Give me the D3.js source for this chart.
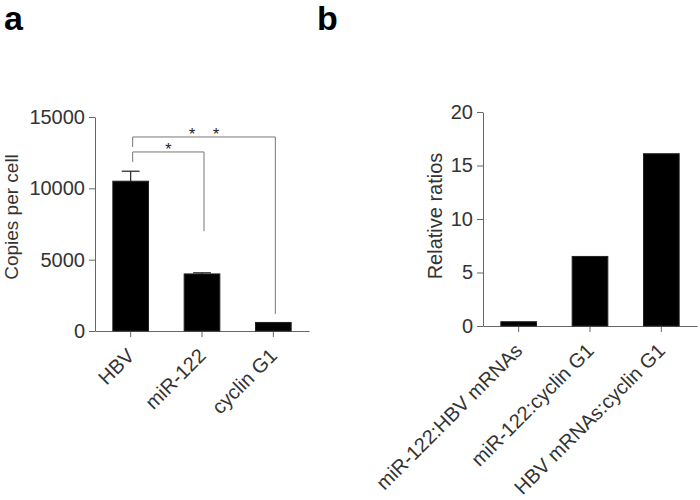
<!DOCTYPE html>
<html>
<head>
<meta charset="utf-8">
<script src="https://cdn.jsdelivr.net/npm/d3@7"></script>
<style>
    body { margin: 0; background: #fff; }
    text { font-family: "Liberation Sans", Arial, sans-serif; }
</style>
</head>
<body>
<svg width="700" height="500"></svg>
<script>
// panel a data
var catsA = ["HBV", "miR-122", "cyclin G1"];
var valsA = [10500, 4000, 600];
var errA = [700, 80, 0];
var ticksA = [0, 5000, 10000, 15000];

// significance brackets: from bar i to bar j, top level and leg ends (data units)
var brackets = [
    {from: 0, to: 1, top: 12550, leftEnd: 11850, rightEnd: 7000, label: "*"},
    {from: 0, to: 2, top: 13600, leftEnd: 12900, rightEnd: 1200, label: "*    *"}
];

// panel b data
var catsB = ["miR-122:HBV mRNAs", "miR-122:cyclin G1", "HBV mRNAs:cyclin G1"];
var valsB = [0.4, 6.5, 16.1];
var ticksB = [0, 5, 10, 15, 20];

var svg = d3.select("svg");
var axisColor = "#666";
var textColor = "#333";

function styleAxis(g) {
    g.selectAll("path").attr("stroke", axisColor);
    g.selectAll("line").attr("stroke", axisColor);
    g.selectAll("text").attr("fill", textColor).style("font-size", "20px");
}

function draw_panel(opt) {
    var x = d3.scaleBand()
        .domain(opt.cats)
        .range([opt.left, opt.right])
        .paddingInner(0.5)
        .paddingOuter(0.25);

    var y = d3.scaleLinear()
        .domain(opt.domain)
        .range([opt.bottom, opt.top]);

    // y axis
    var gy = svg.append("g")
        .attr("transform", "translate(" + opt.left + ",0)")
        .call(d3.axisLeft(y).tickValues(opt.ticks).tickFormat(d3.format("d"))
            .tickSize(6).tickSizeOuter(0).tickPadding(4));
    styleAxis(gy);

    // x axis
    var gx = svg.append("g")
        .attr("transform", "translate(0," + opt.bottom + ")")
        .call(d3.axisBottom(x).tickSize(6).tickSizeOuter(0));
    styleAxis(gx);
    gx.selectAll("text")
        .attr("text-anchor", "end")
        .attr("dy", null)
        .attr("y", 0)
        .attr("transform", "translate(5,26) rotate(-45)");

    // bars
    svg.append("g").selectAll("rect")
        .data(opt.vals)
        .enter()
        .append("rect")
        .attr("x", function(d, i) { return x(opt.cats[i]); })
        .attr("y", function(d) { return y(d); })
        .attr("width", x.bandwidth())
        .attr("height", function(d) { return y(0) - y(d); })
        .attr("fill", "#000")
        .attr("stroke", "#222")
        .attr("stroke-width", 1);

    // y label
    svg.append("text")
        .attr("transform", "translate(" + opt.labelX + "," + opt.labelY + ") rotate(-90)")
        .attr("text-anchor", "middle")
        .attr("fill", textColor)
        .style("font-size", opt.labelSize)
        .text(opt.ylabel);

    return {x: x, y: y};
}

var a = draw_panel({
    cats: catsA, vals: valsA, domain: [0, 15000], ticks: ticksA,
    left: 95, right: 309, top: 117, bottom: 331,
    ylabel: "Copies per cell", labelX: 18, labelY: 217, labelSize: "19px"
});

var b = draw_panel({
    cats: catsB, vals: valsB, domain: [0, 20], ticks: ticksB,
    left: 483, right: 697, top: 112, bottom: 326,
    ylabel: "Relative ratios", labelX: 442, labelY: 216, labelSize: "20px"
});

// error bars (upper half only, like the original)
var bw = a.x.bandwidth();
var eb = svg.append("g").attr("stroke", "#222").attr("stroke-width", 1.2);
valsA.forEach(function(v, i) {
    if (errA[i] <= 0) return;
    var cx = a.x(catsA[i]) + bw / 2;
    eb.append("line")
        .attr("x1", cx).attr("x2", cx)
        .attr("y1", a.y(v)).attr("y2", a.y(v + errA[i]));
    eb.append("line")
        .attr("x1", cx - bw / 4).attr("x2", cx + bw / 4)
        .attr("y1", a.y(v + errA[i])).attr("y2", a.y(v + errA[i]));
});

// significance brackets
var bg = svg.append("g");
brackets.forEach(function(br) {
    var x1 = a.x(catsA[br.from]) + bw / 2 + 2;
    var x2 = a.x(catsA[br.to]) + bw / 2 + 2;
    bg.append("path")
        .attr("d", "M" + x1 + "," + a.y(br.leftEnd) +
            "V" + a.y(br.top) + "H" + x2 + "V" + a.y(br.rightEnd))
        .attr("fill", "none")
        .attr("stroke", "#777")
        .attr("stroke-width", 1);
    bg.append("text")
        .attr("x", (x1 + x2) / 2)
        .attr("y", a.y(br.top) + 3)
        .attr("text-anchor", "middle")
        .attr("fill", "#222")
        .style("font-size", "16px")
        .style("white-space", "pre")
        .text(br.label);
});

// panel letters
svg.append("text").attr("x", 4).attr("y", 30)
    .style("font-size", "34px").style("font-weight", "bold").text("a");
svg.append("text").attr("x", 317).attr("y", 30)
    .style("font-size", "34px").style("font-weight", "bold").text("b");
</script>
</body>
</html>
